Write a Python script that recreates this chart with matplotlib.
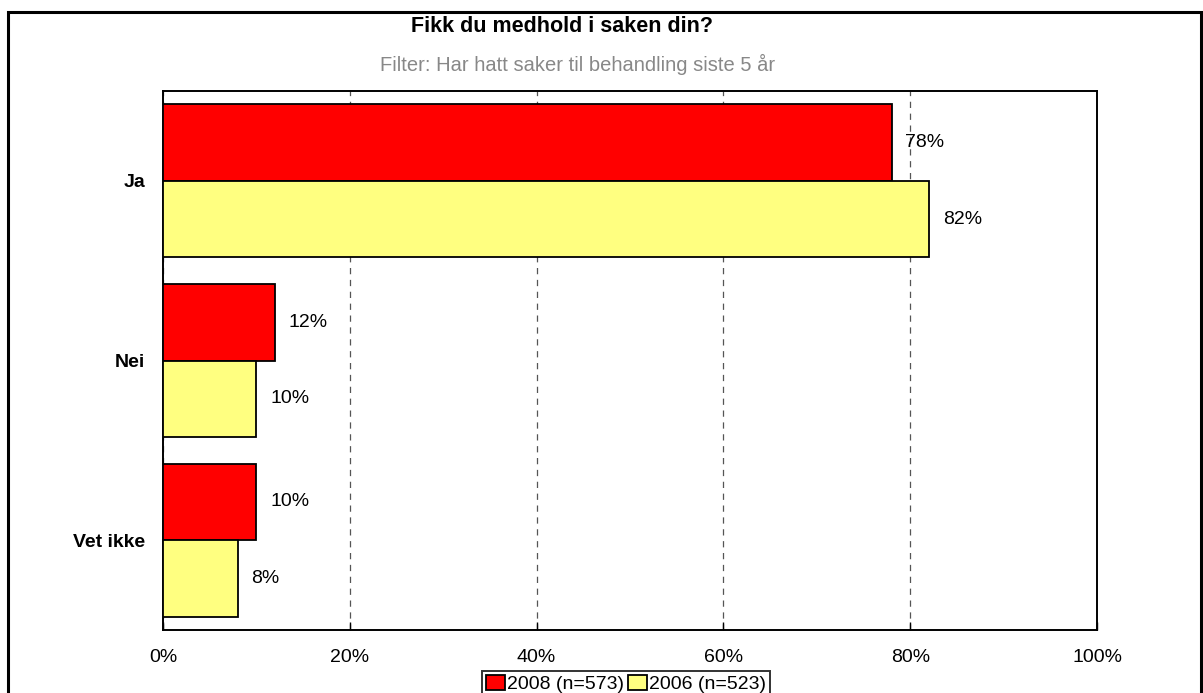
import numpy as np
import matplotlib
matplotlib.use("Agg")
import matplotlib.pyplot as plt
from matplotlib.patches import Rectangle
from matplotlib.ticker import FuncFormatter as ff

plt.rcParams['font.family'] = ['Liberation Sans', 'DejaVu Sans']

categories = ['Ja', 'Nei', 'Vet ikke']
vals_2008 = [78, 12, 10]
vals_2006 = [82, 10, 8]
series_names = ['2008 (n=573)', '2006 (n=523)']
xticks = [0, 20, 40, 60, 80, 100]

red = '#ff0000'
yellow = '#ffff80'
fs = 14

fig = plt.figure(figsize=(12.03, 6.93), dpi=100)
W, H = 1203, 693
ax = fig.add_axes([163 / W, 1 - 630 / H, (1097 - 163) / W, (630 - 91) / H])

# outer frame round the whole chart
fig.patches.append(Rectangle((8 / W, -0.1), (1201 - 8) / W, 1.1 - 12 / H,
                             transform=fig.transFigure, fill=False,
                             edgecolor='black', linewidth=2.2, zorder=0))

y = np.arange(len(categories))
h = 0.425
b1 = ax.barh(y - h / 2, vals_2008, height=h, color=red, edgecolor='black',
             linewidth=1.3, label=series_names[0], zorder=3)
b2 = ax.barh(y + h / 2, vals_2006, height=h, color=yellow, edgecolor='black',
             linewidth=1.3, label=series_names[1], zorder=3)

# value labels to the right of each bar
for bars, vals in [(b1, vals_2008), (b2, vals_2006)]:
    for bar, v in zip(bars, vals):
        ax.annotate(str(v) + '%', (v, bar.get_y() + bar.get_height() / 2),
                    xytext=(10, 0), textcoords='offset points',
                    va='center', ha='left', fontsize=fs, zorder=4)

ax.set_xlim(0, 100)
ax.set_ylim(2.5, -0.5)
ax.set_xticks(xticks)
ax.xaxis.set_major_formatter(ff(lambda x, i: '%d%%' % x))
ax.set_yticks(y)
ax.set_yticklabels(categories, fontweight='bold', fontsize=fs)
ax.tick_params(axis='x', direction='in', length=6, width=1, pad=14, labelsize=fs)
ax.tick_params(axis='y', length=0, pad=13)
ax.xaxis.grid(True, linestyle=(0, (5, 4.5)), color='#555555', linewidth=0.9, zorder=0)
for s in ax.spines.values():
    s.set_linewidth(1.4)

fig.text(562 / W, 1 - 27 / H, 'Fikk du medhold i saken din?', ha='center', va='center',
         fontsize=15.5, fontweight='bold')
fig.text(578 / W, 1 - 64 / H, 'Filter: Har hatt saker til behandling siste 5 år', ha='center',
         va='center', fontsize=14.5, color='#888888')

leg = fig.legend(loc='upper center', bbox_to_anchor=(626 / W, 1 - 671 / H), ncol=2,
                 fontsize=fs, frameon=True, fancybox=False, edgecolor='black',
                 borderpad=0.2, handlelength=1.0, handleheight=0.8, handletextpad=0.1,
                 columnspacing=0.2, borderaxespad=0)
leg.get_frame().set_linewidth(1.4)

plt.savefig('out.png', dpi=100)
